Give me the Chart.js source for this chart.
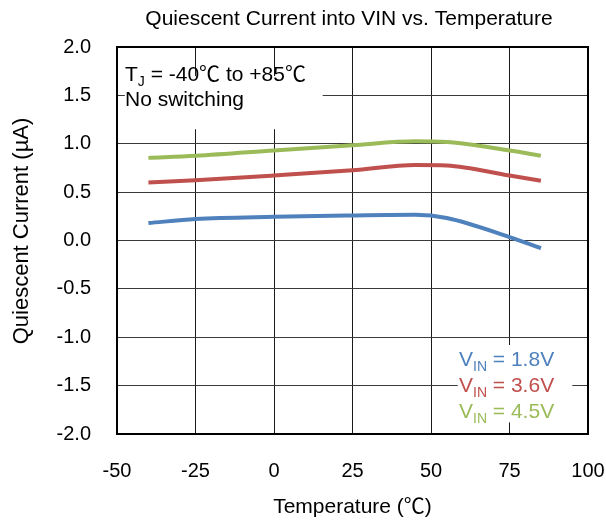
<!DOCTYPE html>
<html>
<head>
<meta charset="utf-8">
<script src="https://cdn.jsdelivr.net/npm/chart.js@4/dist/chart.umd.min.js"></script>
<style>
  html, body { margin: 0; padding: 0; background: #fff; }
  #wrap { width: 606px; height: 521px; }
</style>
</head>
<body>
<div id="wrap"><canvas id="c" width="606" height="521"></canvas></div>
<script>
// Temperature sweep (°C) and measured quiescent current (µA) per input voltage
const temperatures = [-40, -25, 0, 25, 45, 55, 75, 85];
const iq18 = [0.18, 0.222, 0.245, 0.258, 0.265, 0.232, 0.035, -0.08];
const iq36 = [0.60, 0.623, 0.672, 0.726, 0.78, 0.775, 0.671, 0.617];
const iq45 = [0.854, 0.875, 0.93, 0.985, 1.025, 1.018, 0.93, 0.877];

const seriesNames = ['1.8V', '3.6V', '4.5V'];
const seriesColors = ['#4F81BD', '#C0504D', '#9BBB59'];

const xTicks = [-50, -25, 0, 25, 50, 75, 100];
const yTicks = [-2.0, -1.5, -1.0, -0.5, 0.0, 0.5, 1.0, 1.5, 2.0];

const chartTitle = 'Quiescent Current into VIN vs. Temperature';
const xTitle = 'Temperature (℃)';
const yTitle = 'Quiescent Current (µA)';

const FONT = '"Liberation Sans", Arial, "Noto Sans CJK JP", sans-serif';

function toPoints(ys) {
  return temperatures.map((t, i) => ({ x: t, y: ys[i] }));
}

const seriesData = [iq18, iq36, iq45];

// Text with a subscript part: main, sub, rest
function drawSubText(ctx, x, y, main, sub, rest, size, color) {
  ctx.fillStyle = color;
  ctx.textAlign = 'left';
  ctx.textBaseline = 'alphabetic';
  ctx.font = size + 'px ' + FONT;
  ctx.fillText(main, x, y);
  x += ctx.measureText(main).width;
  const subSize = Math.round(size * 0.65);
  ctx.font = subSize + 'px ' + FONT;
  ctx.fillText(sub, x, y + size * 0.22);
  x += ctx.measureText(sub).width;
  ctx.font = size + 'px ' + FONT;
  ctx.fillText(rest, x, y);
}

const decorations = {
  id: 'decorations',
  beforeDatasetsDraw(chart) {
    const ctx = chart.ctx;
    const xs = chart.scales.x, ys = chart.scales.y;
    ctx.save();
    ctx.fillStyle = '#fff';
    // condition note box (top-left) and series key box (bottom-right)
    ctx.fillRect(xs.getPixelForValue(-47.5), ys.getPixelForValue(1.7),
                 xs.getPixelForValue(15.5) - xs.getPixelForValue(-47.5),
                 ys.getPixelForValue(1.15) - ys.getPixelForValue(1.7));
    ctx.fillRect(xs.getPixelForValue(58.5), ys.getPixelForValue(-1.08),
                 xs.getPixelForValue(95) - xs.getPixelForValue(58.5),
                 ys.getPixelForValue(-1.88) - ys.getPixelForValue(-1.08));
    ctx.restore();
  },
  afterDraw(chart) {
    const ctx = chart.ctx;
    const a = chart.chartArea;
    ctx.save();
    // plot frame
    ctx.strokeStyle = '#000';
    ctx.lineWidth = 2;
    ctx.strokeRect(a.left, a.top, a.right - a.left, a.bottom - a.top);

    // chart title
    ctx.fillStyle = '#000';
    ctx.font = '21px ' + FONT;
    ctx.textAlign = 'center';
    ctx.textBaseline = 'alphabetic';
    ctx.fillText(chartTitle, 349, 25);

    // axis titles
    ctx.textBaseline = 'middle';
    ctx.font = '21px ' + FONT;
    ctx.fillText(xTitle, (a.left + a.right) / 2, 507);
    ctx.save();
    ctx.translate(22, 231);
    ctx.rotate(-Math.PI / 2);
    ctx.font = '22px ' + FONT;
    ctx.fillText(yTitle, 0, 0);
    ctx.restore();

    // conditions note
    drawSubText(ctx, 125, 81, 'T', 'J', ' = -40℃ to +85℃', 21, '#000');
    ctx.font = '21px ' + FONT;
    ctx.fillText('No switching', 125, 106);

    // series key
    chart.data.datasets.forEach((ds, i) => {
      drawSubText(ctx, 459, 366 + i * 26, 'V', 'IN', ' = ' + seriesNames[i], 21, ds.borderColor);
    });
    ctx.restore();
  }
};

new Chart(document.getElementById('c'), {
  type: 'line',
  data: {
    datasets: seriesData.map((d, i) => ({
      label: 'VIN = ' + seriesNames[i],
      data: toPoints(d),
      borderColor: seriesColors[i],
      backgroundColor: seriesColors[i],
      borderWidth: 4,
      pointRadius: 0,
      cubicInterpolationMode: 'monotone',
      fill: false
    }))
  },
  options: {
    responsive: false,
    animation: false,
    devicePixelRatio: 1,
    layout: { padding: { top: 47, right: 18, left: 0, bottom: 0 } },
    plugins: { legend: { display: false }, title: { display: false }, tooltip: { enabled: false } },
    scales: {
      x: {
        type: 'linear',
        min: -50, max: 100,
        afterBuildTicks(s) { s.ticks = xTicks.map(v => ({ value: v })); },
        afterFit(s) { s.height = 87; s.paddingLeft = 0; s.paddingRight = 0; },
        grid: { color: '#1a1a1a', lineWidth: 1, drawTicks: false },
        border: { display: false },
        ticks: { color: '#000', font: { family: FONT, size: 20 }, padding: 25, maxRotation: 0 }
      },
      y: {
        type: 'linear',
        min: -2, max: 2,
        afterBuildTicks(s) { s.ticks = yTicks.map(v => ({ value: v })); },
        afterFit(s) { s.width = 117; s.paddingTop = 0; s.paddingBottom = 0; },
        grid: { color: '#3a3a3a', lineWidth: 1, drawTicks: false },
        border: { display: false },
        ticks: { color: '#000', font: { family: FONT, size: 20 }, padding: 26,
                 callback: v => Number(v).toFixed(1) }
      }
    }
  },
  plugins: [decorations]
});
</script>
</body>
</html>
